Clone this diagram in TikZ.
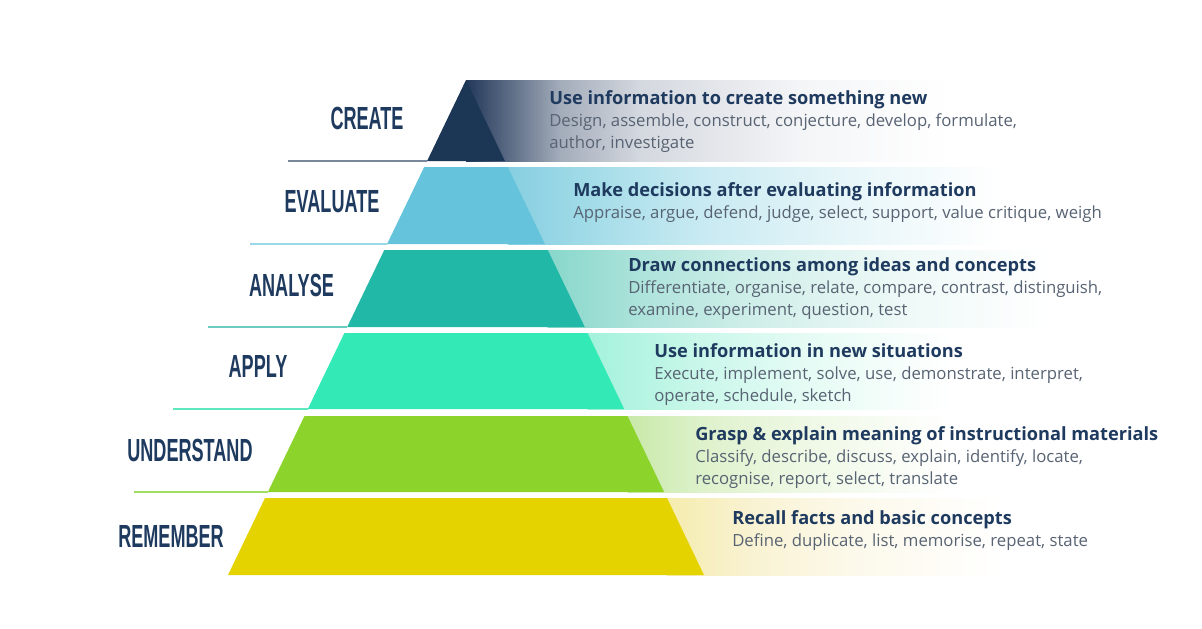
\documentclass[tikz,border=0pt]{standalone}
\usepackage{fontspec}
\setmainfont{Open Sans}
\newfontfamily\labfont[FakeStretch=0.565]{Liberation Sans}
\definecolor{navy}{HTML}{1F3A5F}
\definecolor{bodygray}{HTML}{586373}
% layer colours
\definecolor{cA}{HTML}{1C3656}
\definecolor{cB}{HTML}{65C4DB}
\definecolor{cC}{HTML}{22B8A7}
\definecolor{cD}{HTML}{33EAB7}
\definecolor{cE}{HTML}{8CD42B}
\definecolor{cF}{HTML}{E5D300}
% guide line colours
\definecolor{lA}{HTML}{7A8699}
\definecolor{lB}{HTML}{9AD8E8}
\definecolor{lC}{HTML}{6CCCBF}
\definecolor{lD}{HTML}{5EE8C0}
\definecolor{lE}{HTML}{A2DE62}
% gradient colours
\definecolor{gA0}{HTML}{23395A}\definecolor{gA1}{HTML}{5D6D86}\definecolor{gA2}{HTML}{A3ACBA}\definecolor{gA3}{HTML}{D4D8DF}\definecolor{gA4}{HTML}{F4F5F7}
\definecolor{gB0}{HTML}{86CFE1}\definecolor{gB1}{HTML}{A6DDE9}\definecolor{gB2}{HTML}{C8EAF2}\definecolor{gB3}{HTML}{E8F6F9}
\definecolor{gC0}{HTML}{88D7CB}\definecolor{gC1}{HTML}{B0E4DC}\definecolor{gC2}{HTML}{CFEEE9}\definecolor{gC3}{HTML}{EEF9F7}
\definecolor{gD0}{HTML}{A3F2DB}\definecolor{gD1}{HTML}{CAF7EA}\definecolor{gD2}{HTML}{E4FBF4}
\definecolor{gE0}{HTML}{C8E9A8}\definecolor{gE1}{HTML}{DDF1CA}\definecolor{gE2}{HTML}{EEF8E4}
\definecolor{gF0}{HTML}{F5ECAE}\definecolor{gF1}{HTML}{F9F2D2}\definecolor{gF2}{HTML}{FCF9EA}
\pgfdeclarehorizontalshading{shA}{100bp}{color(0bp)=(gA0); color(25bp)=(gA0); color(28.22bp)=(gA1); color(31.87bp)=(gA2); color(37.72bp)=(gA3); color(49.42bp)=(gA4); color(60.38bp)=(white); color(100bp)=(white)}
\pgfdeclarehorizontalshading{shB}{100bp}{color(0bp)=(gB0); color(25bp)=(gB0); color(32.17bp)=(gB1); color(39.95bp)=(gB2); color(51.64bp)=(gB3); color(63.32bp)=(white); color(100bp)=(white)}
\pgfdeclarehorizontalshading{shC}{100bp}{color(0bp)=(gC0); color(25bp)=(gC0); color(33.47bp)=(gC1); color(41.78bp)=(gC2); color(54.24bp)=(gC3); color(66.69bp)=(white); color(100bp)=(white)}
\pgfdeclarehorizontalshading{shD}{100bp}{color(0bp)=(gD0); color(25bp)=(gD0); color(34.96bp)=(gD1); color(43.86bp)=(gD2); color(57.21bp)=(white); color(100bp)=(white)}
\pgfdeclarehorizontalshading{shE}{100bp}{color(0bp)=(gE0); color(25bp)=(gE0); color(31.90bp)=(gE1); color(41.48bp)=(gE2); color(55.84bp)=(white); color(100bp)=(white)}
\pgfdeclarehorizontalshading{shF}{100bp}{color(0bp)=(gF0); color(25bp)=(gF0); color(33.59bp)=(gF1); color(43.94bp)=(gF2); color(59.47bp)=(white); color(100bp)=(white)}
\tikzset{
  lab/.style={font=\labfont\bfseries\fontsize{24}{24}\selectfont, text=navy, anchor=base, inner sep=0pt},
  desc/.style={anchor=base west, inner sep=0pt, text=bodygray, font=\fontsize{12.55}{16.5}\selectfont},
  guide/.style={line width=1.5pt},
}
\newcommand\blkhead[1]{\hbox{\color{navy}\bfseries\fontsize{13.65}{16.5}\selectfont #1}}
\newcommand\blkline[1]{\hbox{#1}}
\begin{document}
\begin{tikzpicture}[x=0.75pt,y=-0.75pt]
\useasboundingbox (0,0) rectangle (1202,628);
\fill[white] (0,0) rectangle (1202,628);
% gradient bands
\shade[shading=shA] (466,80) rectangle (1150,161);
\shade[shading=shB] (507.8,167) rectangle (1150,244);
\shade[shading=shC] (547.7,250) rectangle (1150,327);
\shade[shading=shD] (587.6,333) rectangle (1150,409);
\shade[shading=shE] (627.5,416) rectangle (1150,492);
\shade[shading=shF] (667.0,498) rectangle (1150,575);
% pyramid layers
\coordinate (A1) at (466,80);   \coordinate (A2) at (427.1,161); \coordinate (A3) at (504.9,161);
\fill[cA] (A1) -- (A3) -- (A2) -- cycle;
\coordinate (B1) at (424.2,167); \coordinate (B2) at (507.8,167); \coordinate (B3) at (544.9,244); \coordinate (B4) at (387.1,244);
\fill[cB] (B1) -- (B2) -- (B3) -- (B4) -- cycle;
\coordinate (C1) at (384.3,250); \coordinate (C2) at (547.7,250); \coordinate (C3) at (584.8,327); \coordinate (C4) at (347.2,327);
\fill[cC] (C1) -- (C2) -- (C3) -- (C4) -- cycle;
\coordinate (D1) at (344.4,333); \coordinate (D2) at (587.6,333); \coordinate (D3) at (624.2,409); \coordinate (D4) at (307.8,409);
\fill[cD] (D1) -- (D2) -- (D3) -- (D4) -- cycle;
\coordinate (E1) at (304.5,416); \coordinate (E2) at (627.5,416); \coordinate (E3) at (664.1,492); \coordinate (E4) at (267.9,492);
\fill[cE] (E1) -- (E2) -- (E3) -- (E4) -- cycle;
\coordinate (F1) at (265.0,498); \coordinate (F2) at (667.0,498); \coordinate (F3) at (704,575); \coordinate (F4) at (228,575);
\fill[cF] (F1) -- (F2) -- (F3) -- (F4) -- cycle;
% guide lines
\coordinate (gA) at (288,161); \coordinate (gB) at (250,244); \coordinate (gC) at (208,327);
\coordinate (gD) at (173,409); \coordinate (gE) at (134,492);
\draw[guide, lA] (gA) -- (A2);
\draw[guide, lB] (gB) -- (B4);
\draw[guide, lC] (gC) -- (C4);
\draw[guide, lD] (gD) -- (D4);
\draw[guide, lE] (gE) -- (E4);
% level labels
\node[lab] (create) at (367,129.5) {CREATE};
\node[lab] (evaluate) at (332,212.5) {EVALUATE};
\node[lab] (analyse) at (291.5,296) {ANALYSE};
\node[lab] (apply) at (258,377) {APPLY};
\node[lab] (understand) at (190,461) {UNDERSTAND};
\node[lab] (remember) at (171,547) {REMEMBER};
% descriptions
\node[desc] (dA) at (549,104) {\vtop{\blkhead{Use information to create something new}\blkline{Design, assemble, construct, conjecture, develop, formulate,}\blkline{author, investigate}}};
\node[desc] (dB) at (573,196) {\vtop{\blkhead{Make decisions after evaluating information}\blkline{Appraise, argue, defend, judge, select, support, value critique, weigh}}};
\node[desc] (dC) at (628,271) {\vtop{\blkhead{Draw connections among ideas and concepts}\blkline{Differentiate, organise, relate, compare, contrast, distinguish,}\blkline{examine, experiment, question, test}}};
\node[desc] (dD) at (654,357) {\vtop{\blkhead{Use information in new situations}\blkline{Execute, implement, solve, use, demonstrate, interpret,}\blkline{operate, schedule, sketch}}};
\node[desc] (dE) at (695,440) {\vtop{\blkhead{Grasp \& explain meaning of instructional materials}\blkline{Classify, describe, discuss, explain, identify, locate,}\blkline{recognise, report, select, translate}}};
\node[desc] (dF) at (732,524) {\vtop{\blkhead{Recall facts and basic concepts}\blkline{Define, duplicate, list, memorise, repeat, state}}};
\end{tikzpicture}
\end{document}
